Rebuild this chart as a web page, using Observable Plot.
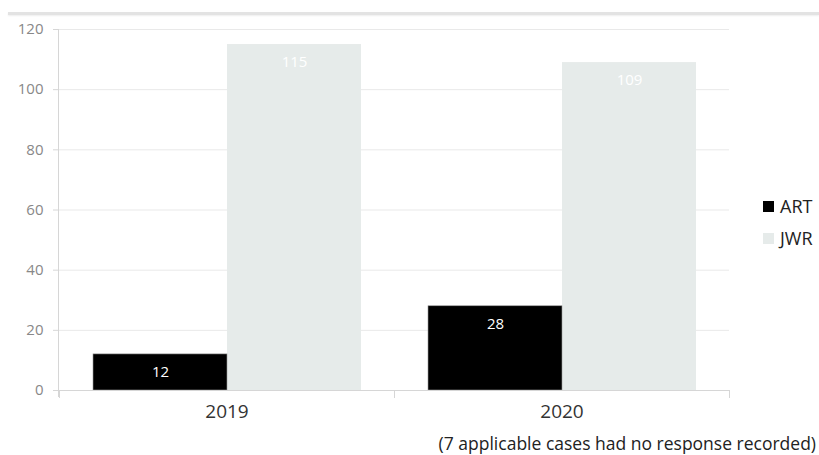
<!DOCTYPE html>
<html>
<head>
<meta charset="utf-8">
<script src="https://cdn.jsdelivr.net/npm/d3@7"></script>
<script src="https://cdn.jsdelivr.net/npm/@observablehq/plot@0.6"></script>
<style>
  body { margin: 0; background: #fff; font-family: "Open Sans", sans-serif; }
  #wrap { position: relative; width: 819px; height: 455px; }
  #topline { position: absolute; left: 8px; top: 12px; width: 811px; height: 3px; background: #e3e3e3; box-shadow: 0 1px 2px #eee; }
  #yline { position: absolute; left: 58px; top: 29px; width: 1px; height: 368px; background: #d6d6d6; }
  #legend { position: absolute; left: 763px; top: 194px; font-size: 18px; color: #222; }
  .item { display: flex; align-items: center; height: 24px; margin-bottom: 8px; }
  .sw { width: 11px; height: 11px; margin-right: 6px; }
  #caption { position: absolute; left: 0; top: 430px; width: 816px; text-align: right; font-size: 17.5px; color: #222; line-height: 26px; white-space: nowrap; }
</style>
</head>
<body>
<div id="wrap">
  <div id="chart"></div>
  <div id="topline"></div>
  <div id="yline"></div>
  <div id="legend"></div>
  <div id="caption">(7 applicable cases had no response recorded)</div>
</div>
<script>
const years = ["2019", "2020"];
const series = ["ART", "JWR"];
const artValues = [12, 28];
const jwrValues = [115, 109];
const colors = ["#000000", "#e6ebea"];
const yTicks = [0, 20, 40, 60, 80, 100, 120];

const data = [];
years.forEach((yr, i) => {
  data.push({year: yr, series: "ART", value: artValues[i]});
  data.push({year: yr, series: "JWR", value: jwrValues[i]});
});
const artData = data.filter(d => d.series === "ART");
const jwrData = data.filter(d => d.series === "JWR");

const chart = Plot.plot({
  width: 819,
  height: 432,
  marginTop: 29,
  marginBottom: 42,
  marginLeft: 58,
  marginRight: 90,
  style: {fontFamily: "Open Sans, sans-serif", background: "transparent"},
  fx: {domain: years, padding: 0, label: null},
  x: {domain: series, paddingInner: 0, paddingOuter: 0.245, axis: null},
  y: {domain: [0, 120], label: null},
  color: {domain: series, range: colors},
  marks: [
    Plot.gridY(yTicks, {stroke: "#e9e9e9", strokeOpacity: 1}),
    Plot.barY(jwrData, {fx: "year", x: "series", y: "value", fill: "series"}),
    Plot.barY(artData, {fx: "year", x: "series", y: "value", fill: "series", stroke: "#999", strokeWidth: 0.6}),
    Plot.text(data, {fx: "year", x: "series", y: "value", text: d => String(d.value), dy: 18, fill: "#fff", fontSize: 15}),
    Plot.ruleY([0], {stroke: "#d6d6d6"}),
    Plot.frame({anchor: "left", stroke: "#d6d6d6", insetTop: 361, insetBottom: -7}),
    Plot.frame({anchor: "right", stroke: "#d6d6d6", insetTop: 361, insetBottom: -7}),
    Plot.axisY({ticks: yTicks, tickSize: 6, stroke: "#d6d6d6", fill: "#888", fontSize: 15, tickPadding: 10, label: null}),
    Plot.axisFx({anchor: "bottom", tickSize: 0, tickPadding: 14, fontSize: 19, fill: "#333", label: null})
  ]
});
document.getElementById("chart").appendChild(chart);

const legend = document.getElementById("legend");
series.forEach((s, i) => {
  const it = document.createElement("div");
  it.className = "item";
  const sw = document.createElement("div");
  sw.className = "sw";
  sw.style.background = colors[i];
  const t = document.createElement("span");
  t.textContent = s;
  it.appendChild(sw); it.appendChild(t);
  legend.appendChild(it);
});
</script>
</body>
</html>
